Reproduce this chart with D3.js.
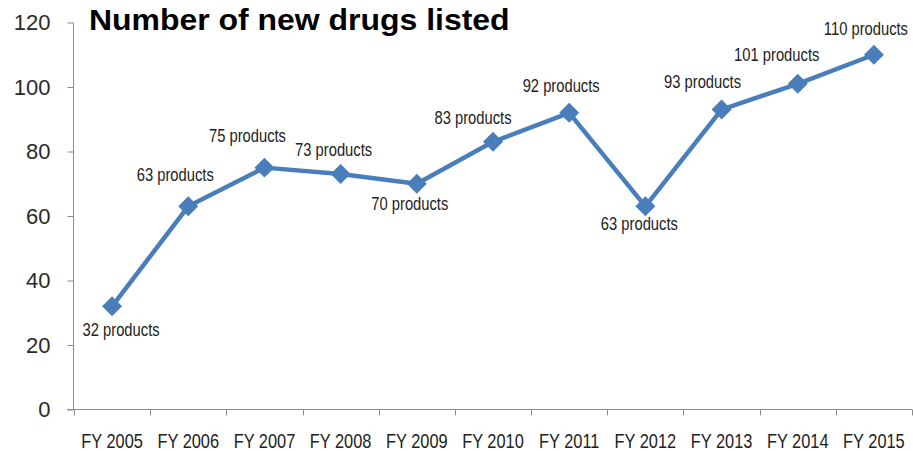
<!DOCTYPE html>
<html>
<head>
<meta charset="utf-8">
<script src="https://cdn.jsdelivr.net/npm/d3@7"></script>
<style>
  body { margin: 0; background: #fff; }
  svg { display: block; }
  .narrow { font-family: "Liberation Sans", Arial, sans-serif; }
</style>
</head>
<body>
<div id="viz"></div>
<script>
// data
const years = ["FY 2005", "FY 2006", "FY 2007", "FY 2008", "FY 2009", "FY 2010",
               "FY 2011", "FY 2012", "FY 2013", "FY 2014", "FY 2015"];
const drugCounts = [32, 63, 75, 73, 70, 83, 92, 63, 93, 101, 110];
const yTicks = [0, 20, 40, 60, 80, 100, 120];
const chartTitle = "Number of new drugs listed";

// where each data label sits relative to its marker (dx, dy of baseline centre)
const labelOffsets = [[9, 30], [-13, -25], [-17, -26], [-7, -18], [-7, 26], [-20, -18],
                      [-8, -21], [-6, 24], [-19, -22], [-21, -23], [-8, -20]];

const width = 913, height = 451;
const lineColor = "#4a7ebb";
const axisColor = "#8c8c8c";
const narrowScale = 0.82;  // no Arial Narrow here: squeeze Liberation Sans instead

let svg = d3.select("#viz")
  .append("svg")
    .attr("width", width)
    .attr("height", height);

// scales
let xScale = d3.scaleBand()
  .domain(years)
  .range([74, 912]);
let yScale = d3.scaleLinear()
  .domain([0, 120])
  .range([409.5, 22.5]);

// Y axis
let yAxisG = svg.append("g")
  .attr("transform", "translate(73.5,0)")
  .call(d3.axisLeft(yScale).tickValues(yTicks).tickSize(6).tickPadding(17));
yAxisG.select(".domain").attr("stroke", axisColor).attr("d", "M0," + yScale(120) + "V" + yScale(0));
yAxisG.selectAll(".tick line").attr("stroke", axisColor);
yAxisG.selectAll(".tick text")
  .attr("fill", "#2a2a2a")
  .style("font-family", "'Liberation Sans', Arial, sans-serif")
  .style("font-size", "22px");

// X axis: ticks sit on the band boundaries, labels in the band centres
let xAxisG = svg.append("g")
  .attr("transform", "translate(0," + (yScale(0)) + ")");
xAxisG.append("line")
  .attr("x1", 67).attr("x2", xScale.range()[1])
  .attr("stroke", axisColor);
xAxisG.selectAll(".xtick")
  .data(years.concat(["end"]))
  .enter().append("line")
    .attr("class", "xtick")
    .attr("x1", (d, i) => Math.round(xScale.range()[0] + i * xScale.step()) + 0.5)
    .attr("x2", (d, i) => Math.round(xScale.range()[0] + i * xScale.step()) + 0.5)
    .attr("y1", 0).attr("y2", 6)
    .attr("stroke", axisColor);
xAxisG.selectAll(".xlabel")
  .data(years)
  .enter().append("text")
    .attr("class", "xlabel narrow")
    .attr("transform", d => "translate(" + (xScale(d) + xScale.bandwidth() / 2) + ",38) scale(" + narrowScale + ",1)")
    .attr("text-anchor", "middle")
    .attr("fill", "#222")
    .style("font-size", "20px")
    .text(d => d);

// line
let points = years.map((y, i) => ({year: y, value: drugCounts[i], off: labelOffsets[i]}));
let line = d3.line()
  .x(d => xScale(d.year) + xScale.bandwidth() / 2)
  .y(d => yScale(d.value));

svg.append("path")
  .datum(points)
  .attr("fill", "none")
  .attr("stroke", lineColor)
  .attr("stroke-width", 4.5)
  .attr("stroke-linejoin", "round")
  .attr("d", line);

// diamond markers
svg.selectAll(".marker")
  .data(points)
  .enter().append("path")
    .attr("class", "marker")
    .attr("d", d3.symbol().type(d3.symbolSquare).size(200))
    .attr("transform", d => "translate(" + line.x()(d) + "," + line.y()(d) + ") rotate(45)")
    .attr("fill", lineColor);

// data labels
svg.selectAll(".dlabel")
  .data(points)
  .enter().append("text")
    .attr("class", "dlabel narrow")
    .attr("transform", d => "translate(" + (line.x()(d) + d.off[0]) + "," + (line.y()(d) + d.off[1]) + ") scale(" + narrowScale + ",1)")
    .attr("text-anchor", "middle")
    .attr("fill", "#222")
    .style("font-size", "18px")
    .text(d => d.value + " products");

// title
svg.append("text")
  .attr("transform", "translate(89,30) scale(1.065,1)")
  .attr("fill", "#000")
  .style("font-family", "'Liberation Sans', Arial, sans-serif")
  .style("font-weight", "bold")
  .style("font-size", "30px")
  .text(chartTitle);
</script>
</body>
</html>
